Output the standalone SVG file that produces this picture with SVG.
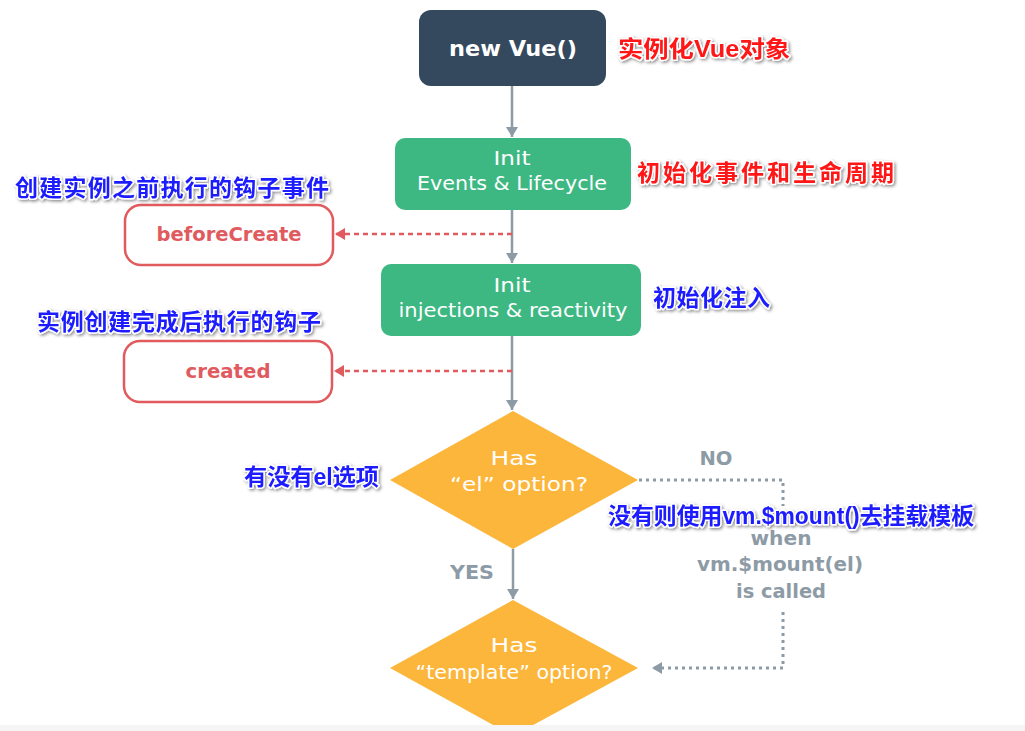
<svg xmlns="http://www.w3.org/2000/svg" width="1025" height="731" viewBox="0 0 1025 731">
<style>
.en{font-family:"DejaVu Sans","Open Sans",sans-serif;text-anchor:middle}
.w{fill:#fff;font-size:19px}
.hook{fill:#fff;stroke:#e05a5e;stroke-width:2.5}
.hookt{fill:#e05a5e;font-size:20px;font-weight:bold}
.gl{fill:#8d9ba6;font-size:19px;font-weight:bold}
.cn{font-family:"Liberation Sans","Noto Sans CJK SC",sans-serif;font-size:23px;font-weight:bold;stroke:#fff;stroke-width:3;paint-order:stroke;stroke-linejoin:round;filter:url(#sh)}
.red{fill:#ff1414}
.blue{fill:#1a1aff}
.arrow{stroke:#8d9ba6;stroke-width:2.5;fill:none}
.red-dash{stroke:#e05a5e;stroke-width:2.5;stroke-dasharray:5 4;fill:none}
.gray-dot{stroke:#8d9ba6;stroke-width:3;stroke-dasharray:3 4;fill:none}
</style>
<defs>
<filter id="sh" x="-10%" y="-30%" width="120%" height="160%">
<feDropShadow dx="1.5" dy="1.5" stdDeviation="1.5" flood-color="#000" flood-opacity="0.45"/>
</filter>
<marker id="ag" markerWidth="12" markerHeight="12" refX="10" refY="6" orient="auto" markerUnits="userSpaceOnUse">
<path d="M0,0 L10,6 L0,12 Z" fill="#8d9ba6"/>
</marker>
<marker id="ar" markerWidth="12" markerHeight="12" refX="10" refY="6" orient="auto" markerUnits="userSpaceOnUse">
<path d="M0,0 L10,6 L0,12 Z" fill="#e05a5e"/>
</marker>
</defs>
<rect width="1025" height="731" fill="#fff"/>

<g id="connectors">
<path class="arrow" d="M512,86 V137" marker-end="url(#ag)"/>
<path class="arrow" d="M512,210 V263" marker-end="url(#ag)"/>
<path class="arrow" d="M512,336 V410" marker-end="url(#ag)"/>
<path class="arrow" d="M513,549 V599" marker-end="url(#ag)"/>
<path class="red-dash" d="M512,234 H335" marker-end="url(#ar)"/>
<path class="red-dash" d="M512,371 H334" marker-end="url(#ar)"/>
<path class="gray-dot" d="M639,480 H783 V506"/>
<path class="gray-dot" d="M783,612 V668 H652" marker-end="url(#ag)"/>
<text class="en gl" x="716" y="465" textLength="33" lengthAdjust="spacingAndGlyphs">NO</text>
<text class="en gl" x="472" y="579" textLength="44" lengthAdjust="spacingAndGlyphs">YES</text>
<text class="en gl" x="781" y="545" textLength="61" lengthAdjust="spacingAndGlyphs">when</text>
<text class="en gl" x="780" y="571" textLength="166" lengthAdjust="spacingAndGlyphs">vm.$mount(el)</text>
<text class="en gl" x="781" y="598" textLength="90" lengthAdjust="spacingAndGlyphs">is called</text>
</g>

<g id="new-vue">
<rect x="419" y="10" width="187" height="76" rx="12" fill="#35495e"/>
<text class="en" x="513" y="56" fill="#fff" font-size="22" font-weight="bold" textLength="128" lengthAdjust="spacingAndGlyphs">new Vue()</text>
</g>

<g id="init-events">
<rect x="395" y="138" width="236" height="72" rx="10" fill="#3eb883"/>
<text class="en w" x="512" y="165" textLength="37" lengthAdjust="spacingAndGlyphs">Init</text>
<text class="en w" x="512" y="190" textLength="190" lengthAdjust="spacingAndGlyphs">Events &amp; Lifecycle</text>
</g>

<g id="before-create">
<rect class="hook" x="125" y="205" width="208" height="60" rx="16"/>
<text class="en hookt" x="229" y="241" textLength="145" lengthAdjust="spacingAndGlyphs">beforeCreate</text>
</g>

<g id="init-injections">
<rect x="381" y="264" width="260" height="72" rx="10" fill="#3eb883"/>
<text class="en w" x="512" y="292" textLength="37" lengthAdjust="spacingAndGlyphs">Init</text>
<text class="en w" x="513" y="317" textLength="229" lengthAdjust="spacingAndGlyphs">injections &amp; reactivity</text>
</g>

<g id="created">
<rect class="hook" x="124" y="341" width="208" height="61" rx="16"/>
<text class="en hookt" x="228" y="378" textLength="85" lengthAdjust="spacingAndGlyphs">created</text>
</g>

<g id="has-el">
<polygon points="513,411 638,480 513,549 390,480" fill="#fbb63b"/>
<text class="en w" x="514" y="465" textLength="47" lengthAdjust="spacingAndGlyphs">Has</text>
<text class="en w" x="519" y="491" textLength="138" lengthAdjust="spacingAndGlyphs">“el” option?</text>
</g>

<g id="has-template">
<polygon points="513,600 638,668 513,736 390,668" fill="#fbb63b"/>
<text class="en w" x="514" y="652" textLength="47" lengthAdjust="spacingAndGlyphs">Has</text>
<text class="en w" x="514" y="679" textLength="197" lengthAdjust="spacingAndGlyphs">“template” option?</text>
</g>

<rect x="0" y="725" width="1025" height="6" fill="#f5f5f5"/>

<g id="annotations">
<text class="cn red" x="618" y="57" font-size="24" textLength="172" lengthAdjust="spacingAndGlyphs">实例化Vue对象</text>
<text class="cn red" x="637" y="181" font-size="24" textLength="257">初始化事件和生命周期</text>
<text class="cn blue" x="15" y="196" textLength="314">创建实例之前执行的钩子事件</text>
<text class="cn blue" x="653" y="306" textLength="117">初始化注入</text>
<text class="cn blue" x="37" y="330" textLength="284">实例创建完成后执行的钩子</text>
<text class="cn blue" x="244" y="485" textLength="135" lengthAdjust="spacingAndGlyphs">有没有el选项</text>
<text class="cn blue" x="608" y="524" textLength="366" lengthAdjust="spacingAndGlyphs">没有则使用vm.$mount()去挂载模板</text>
</g>
</svg>
